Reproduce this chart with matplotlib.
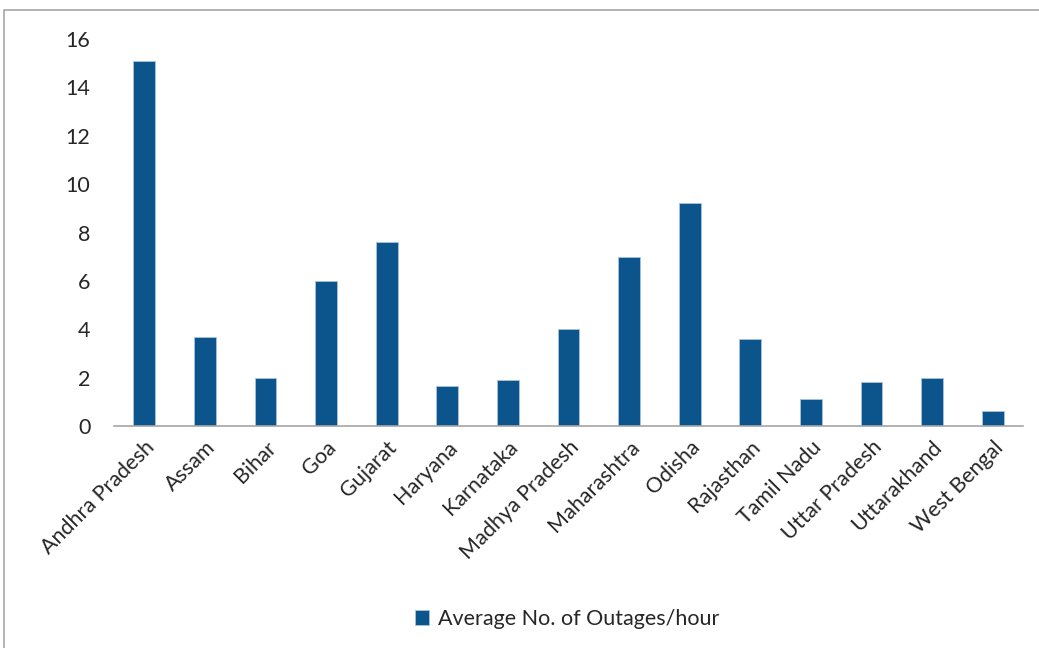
import matplotlib.pyplot as plt
from matplotlib.patches import Rectangle

states = ["Andhra Pradesh", "Assam", "Bihar", "Goa", "Gujarat", "Haryana",
          "Karnataka", "Madhya Pradesh", "Maharashtra", "Odisha", "Rajasthan",
          "Tamil Nadu", "Uttar Pradesh", "Uttarakhand", "West Bengal"]
outages = [15.1, 3.7, 2.0, 6.0, 7.6, 1.65, 1.9, 4.0, 7.0, 9.2, 3.6, 1.1, 1.8, 2.0, 0.6]
yticks = [0, 2, 4, 6, 8, 10, 12, 14, 16]

plt.rcParams["font.family"] = ["Lato", "DejaVu Sans"]

fig = plt.figure(figsize=(10.39, 6.48), dpi=100)
# outer chart frame
fig.patches.append(Rectangle((4 / 1039, -0.1), 1.1, 1 - 10 / 648 + 0.1,
                             transform=fig.transFigure, fill=False,
                             edgecolor="#a6a6a6", linewidth=1.2))

ax = fig.add_axes([0.1097, 0.3426, 0.8749, 0.5972])
x = list(range(len(states)))
ax.bar(x, outages, width=0.36, color="#0b558c", edgecolor="#a9c4dd",
       linewidth=0.6, label="Average No. of Outages/hour")

ax.set_xlim(-0.5, len(states) - 0.5)
ax.set_ylim(0, 16)
ax.set_yticks(yticks)
ax.set_xticks(x)
ax.set_xticklabels(states, rotation=45, ha="right", rotation_mode="anchor")
ax.tick_params(axis="y", length=0, pad=17, labelsize=15.5, labelcolor="#262626")
ax.tick_params(axis="x", length=0, pad=8, labelsize=15.5, labelcolor="#262626")
for s in ["top", "right", "left"]:
    ax.spines[s].set_visible(False)
ax.spines["bottom"].set_color("#a6a6a6")
ax.spines["bottom"].set_linewidth(1.2)

fig.legend(loc="center", bbox_to_anchor=(0.546, 1 - 619 / 648), frameon=False,
           fontsize=15.5, handlelength=0.65, handleheight=0.65, handletextpad=0.4,
           labelcolor="#262626")

fig.savefig("out.png", dpi=100)
